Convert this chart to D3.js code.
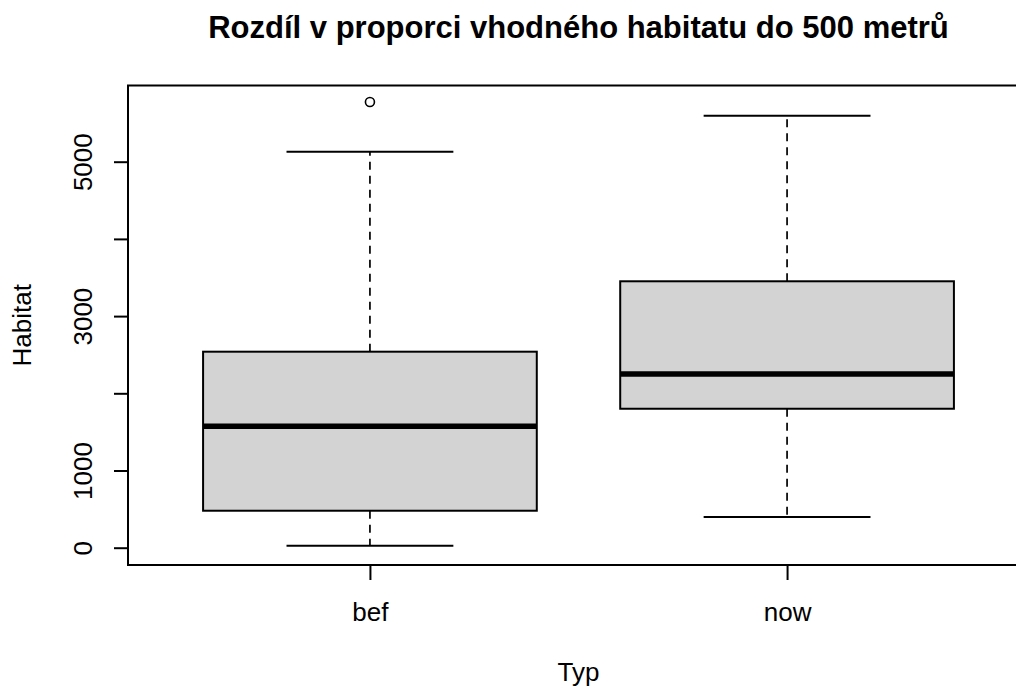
<!DOCTYPE html>
<html><head><meta charset="utf-8">
<script src="https://cdn.jsdelivr.net/npm/d3@7"></script>
<style>body{margin:0;background:#fff}svg{display:block;font-family:"Liberation Sans",Arial,sans-serif}</style>
</head><body>
<svg id="c" width="1016" height="689"></svg>
<script>
const categories = ["bef", "now"];
const lowerWhisker = [26, 398];
const q1 = [479, 1800];
const median = [1573, 2250];
const q3 = [2539, 3451];
const upperWhisker = [5130, 5596];
const outliers = [[5773], []];
const yTicks = [0, 1000, 2000, 3000, 4000, 5000];
const yTickLabels = ["0", "1000", "", "3000", "", "5000"];
const yLimits = [-224, 5987];
const xLimits = [0.42, 2.58];
const title = "Rozdíl v proporci vhodného habitatu do 500 metrů";
const xLabel = "Typ", yLabel = "Habitat";

const svg = d3.select("#c");
const L = 128, T = 85.5, B = 565;
const x = d3.scaleLinear().domain(xLimits).range([L, 1029]);
const y = d3.scaleLinear().domain(yLimits).range([B, T]);

const data = categories.map((c, i) => ({c, i: i + 1, lw: lowerWhisker[i], q1: q1[i], med: median[i], q3: q3[i], uw: upperWhisker[i], out: outliers[i]}));

const g = svg.append("g");
data.forEach(d => {
  const cx = x(d.i);
  const hw = x(d.i + 0.4) - cx, cw = x(d.i + 0.2) - cx;
  g.append("line").attr("x1", cx).attr("x2", cx).attr("y1", y(d.q3)).attr("y2", y(d.uw))
    .attr("stroke", "#000").attr("stroke-width", 1.7).attr("stroke-dasharray", "8,6");
  g.append("line").attr("x1", cx).attr("x2", cx).attr("y1", y(d.q1)).attr("y2", y(d.lw))
    .attr("stroke", "#000").attr("stroke-width", 1.7).attr("stroke-dasharray", "8,6");
  [d.uw, d.lw].forEach(v => g.append("line").attr("x1", cx - cw).attr("x2", cx + cw)
    .attr("y1", y(v)).attr("y2", y(v)).attr("stroke", "#000").attr("stroke-width", 2));
  g.append("rect").attr("x", cx - hw).attr("width", 2 * hw).attr("y", y(d.q3)).attr("height", y(d.q1) - y(d.q3))
    .attr("fill", "#d3d3d3").attr("stroke", "#000").attr("stroke-width", 2);
  g.append("line").attr("x1", cx - hw).attr("x2", cx + hw).attr("y1", y(d.med)).attr("y2", y(d.med))
    .attr("stroke", "#000").attr("stroke-width", 5.5);
  d.out.forEach(v => g.append("circle").attr("cx", cx).attr("cy", y(v)).attr("r", 4.5)
    .attr("fill", "none").attr("stroke", "#000").attr("stroke-width", 1.6));
});

svg.append("rect").attr("x", L).attr("y", T).attr("width", 1029 - L).attr("height", B - T)
  .attr("fill", "none").attr("stroke", "#000").attr("stroke-width", 2);

const ya = svg.append("g").attr("transform", `translate(${L},0)`)
  .call(d3.axisLeft(y).tickValues(yTicks).tickSize(14).tickSizeOuter(0).tickFormat((v, i) => yTickLabels[i]));
ya.select(".domain").remove();
ya.selectAll(".tick line").attr("stroke", "#000").attr("stroke-width", 2);
ya.selectAll(".tick text").attr("font-size", 26).attr("fill", "#000").attr("font-family", "Liberation Sans, Arial, sans-serif")
  .attr("transform", "rotate(-90)").attr("text-anchor", "middle").attr("x", 0).attr("dy", null).attr("y", -36);

const xa = svg.append("g").attr("transform", `translate(0,${B})`)
  .call(d3.axisBottom(x).tickValues([1, 2]).tickSize(15).tickSizeOuter(0).tickFormat((v, i) => categories[i]));
xa.select(".domain").remove();
xa.selectAll(".tick line").attr("stroke", "#000").attr("stroke-width", 2);
xa.selectAll(".tick text").attr("font-size", 26).attr("fill", "#000").attr("font-family", "Liberation Sans, Arial, sans-serif")
  .attr("dy", null).attr("y", 56);

svg.append("text").attr("x", (L + 1029) / 2).attr("y", 681).attr("text-anchor", "middle")
  .attr("font-size", 26).text(xLabel);
svg.append("text").attr("transform", `translate(31,${(T + B) / 2}) rotate(-90)`).attr("text-anchor", "middle")
  .attr("font-size", 26).text(yLabel);
svg.append("text").attr("x", (L + 1029) / 2).attr("y", 38).attr("text-anchor", "middle")
  .attr("font-size", 31).attr("font-weight", "bold").text(title);
</script>
</body></html>
